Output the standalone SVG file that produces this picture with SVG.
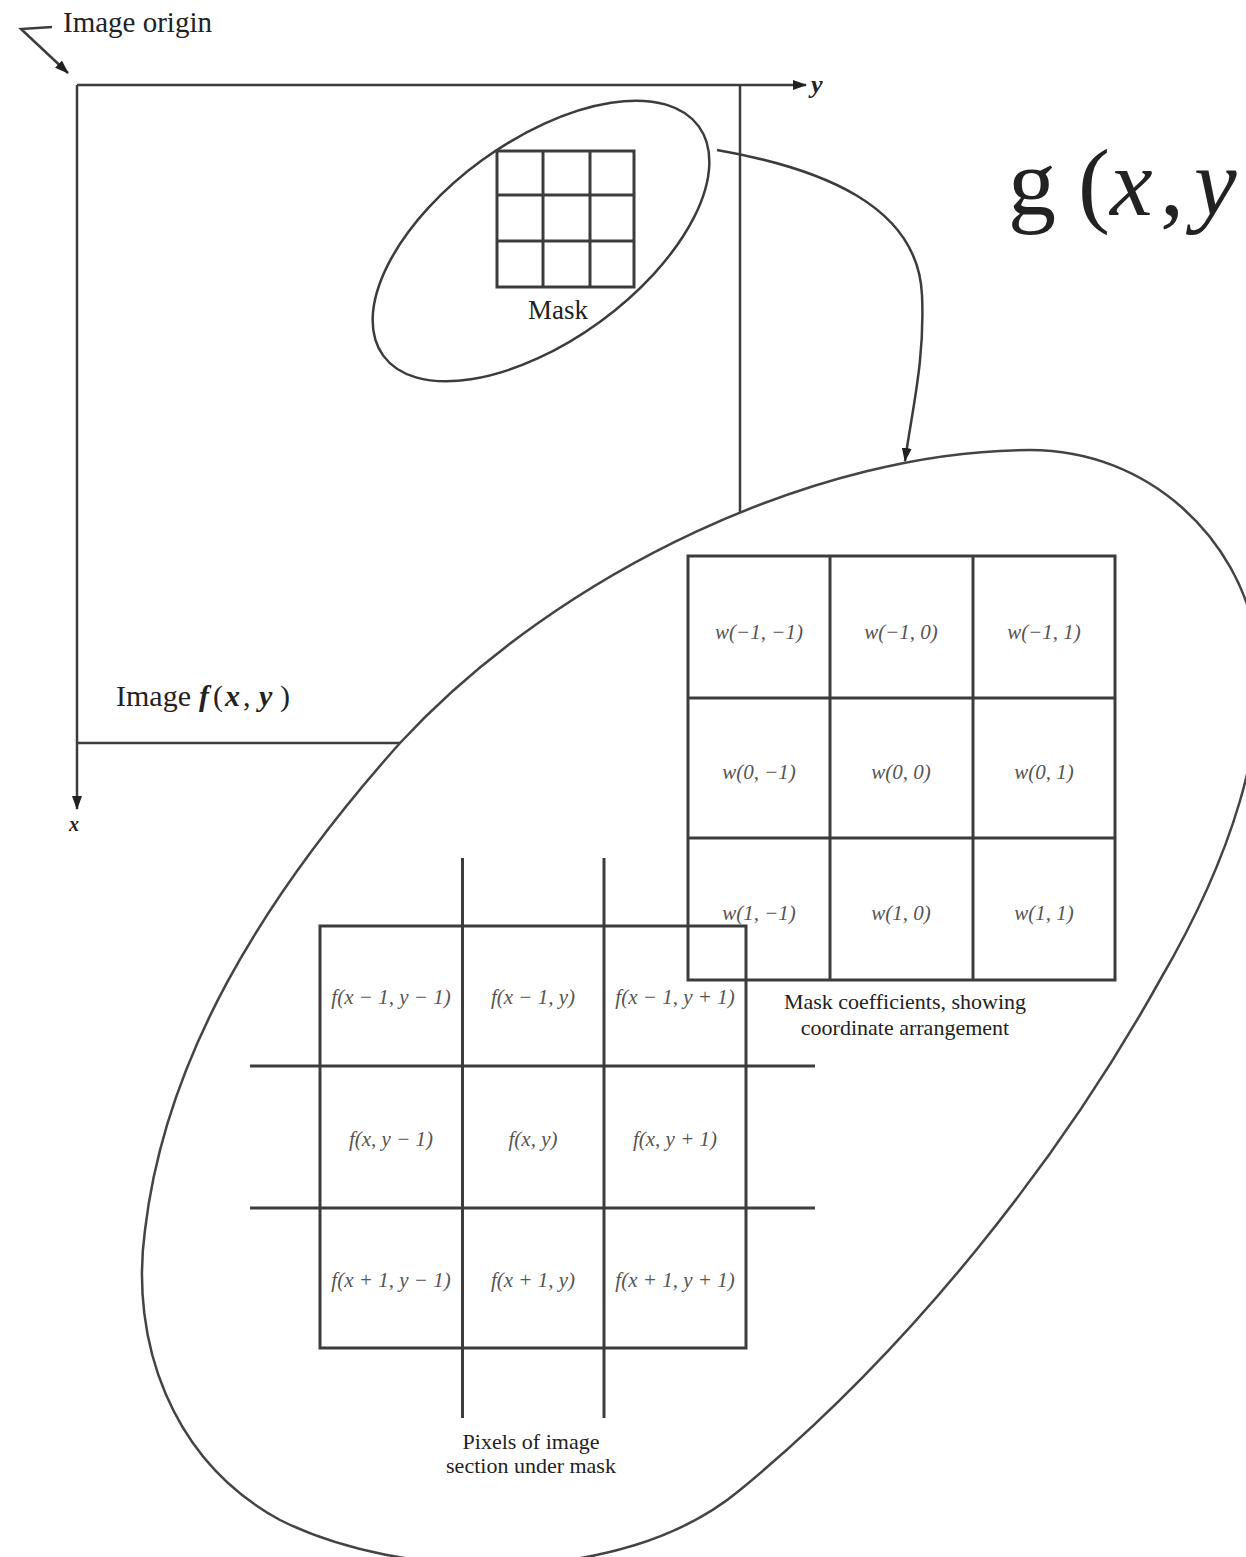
<svg xmlns="http://www.w3.org/2000/svg" width="1246" height="1557" viewBox="0 0 1246 1557">
<style>
.ln{fill:none;stroke:#3c3c3c;stroke-width:2.5}
.th{fill:none;stroke:#3c3c3c;stroke-width:3}
.lab{font-family:"Liberation Serif","Times New Roman",serif;fill:#222}
.cell{font-family:"Liberation Serif","Times New Roman",serif;font-size:21px;fill:#555;text-anchor:middle;font-style:italic}
.cap{font-family:"Liberation Serif","Times New Roman",serif;font-size:22px;fill:#222;text-anchor:middle}
.bi{font-style:italic;font-weight:bold}
</style>
<defs>
<marker id="arr" viewBox="0 0 14 10" refX="13" refY="5" markerWidth="14" markerHeight="10" markerUnits="userSpaceOnUse" orient="auto">
<path d="M0,0 L14,5 L0,10 Z" fill="#222"/>
</marker>
</defs>
<rect width="1246" height="1557" fill="#fff"/>

<g id="image-frame">
<line class="ln" x1="77" y1="85" x2="806" y2="85" marker-end="url(#arr)"/>
<line class="ln" x1="77" y1="85" x2="77" y2="809" marker-end="url(#arr)"/>
<line class="ln" x1="740" y1="85" x2="740" y2="540"/>
<line class="ln" x1="77" y1="743" x2="430" y2="743"/>
<text class="lab bi" x="811" y="93" font-size="26">y</text>
<text class="lab bi" x="69" y="831" font-size="20">x</text>
<text class="lab" y="706" font-size="30"><tspan x="116">Image</tspan><tspan class="bi" x="199">f</tspan><tspan x="213">(</tspan><tspan class="bi" x="225">x</tspan><tspan x="243">,</tspan><tspan class="bi" x="259">y</tspan><tspan x="280">)</tspan></text>
</g>

<g id="image-origin-label">
<text class="lab" x="63" y="32" font-size="29">Image origin</text>
</g>

<g id="mask-window">
<ellipse class="ln" cx="541" cy="241" rx="195" ry="100" transform="rotate(-36 541 241)"/>
<rect class="th" x="497" y="151" width="137" height="136"/>
<line class="th" x1="543" y1="151" x2="543" y2="287"/>
<line class="th" x1="590" y1="151" x2="590" y2="287"/>
<line class="th" x1="497" y1="195" x2="634" y2="195"/>
<line class="th" x1="497" y1="241" x2="634" y2="241"/>
<text class="lab" x="558" y="319" font-size="27" text-anchor="middle">Mask</text>
</g>

<g id="g-expression">
<text class="lab" y="215" font-size="96" fill="#111"><tspan x="1008">g</tspan><tspan x="1078">(</tspan><tspan x="1110" font-style="italic">x</tspan><tspan x="1160">,</tspan><tspan x="1194" font-style="italic">y</tspan></text>
</g>

<g id="zoom-ellipse">
<path d="M1030,450 C1150,450 1240,540 1256,640 C1270,740 1230,860 1160,980 C1060,1160 910,1350 740,1490 C620,1590 400,1580 280,1520 C170,1460 130,1340 145,1230 C165,1060 260,900 400,743 C560,570 820,450 1030,450 Z" fill="#fff" stroke="#444" stroke-width="2.5"/>
</g>

<g id="pixel-grid">
<rect class="th" x="320" y="926" width="426" height="422" fill="#fff"/>
<line class="th" x1="462.5" y1="858" x2="462.5" y2="1418"/>
<line class="th" x1="604" y1="858" x2="604" y2="1418"/>
<line class="th" x1="250" y1="1066" x2="815" y2="1066"/>
<line class="th" x1="250" y1="1208" x2="815" y2="1208"/>
<text class="cell" x="391" y="1004">f(x − 1, y − 1)</text>
<text class="cell" x="533" y="1004">f(x − 1, y)</text>
<text class="cell" x="675" y="1004">f(x − 1, y + 1)</text>
<text class="cell" x="391" y="1146">f(x, y − 1)</text>
<text class="cell" x="533" y="1146">f(x, y)</text>
<text class="cell" x="675" y="1146">f(x, y + 1)</text>
<text class="cell" x="391" y="1287">f(x + 1, y − 1)</text>
<text class="cell" x="533" y="1287">f(x + 1, y)</text>
<text class="cell" x="675" y="1287">f(x + 1, y + 1)</text>
<text class="cap" x="531" y="1449">Pixels of image</text>
<text class="cap" x="531" y="1473">section under mask</text>
</g>

<g id="mask-coefficients">
<rect class="th" x="688" y="556" width="427" height="424" fill="#fff"/>
<line class="th" x1="830" y1="556" x2="830" y2="980"/>
<line class="th" x1="973" y1="556" x2="973" y2="980"/>
<line class="th" x1="688" y1="698" x2="1115" y2="698"/>
<line class="th" x1="688" y1="838" x2="1115" y2="838"/>
<text class="cell" x="759" y="639">w(−1, −1)</text>
<text class="cell" x="901" y="639">w(−1, 0)</text>
<text class="cell" x="1044" y="639">w(−1, 1)</text>
<text class="cell" x="759" y="779">w(0, −1)</text>
<text class="cell" x="901" y="779">w(0, 0)</text>
<text class="cell" x="1044" y="779">w(0, 1)</text>
<text class="cell" x="759" y="920">w(1, −1)</text>
<text class="cell" x="901" y="920">w(1, 0)</text>
<text class="cell" x="1044" y="920">w(1, 1)</text>
<text class="cap" x="905" y="1009">Mask coefficients, showing</text>
<text class="cap" x="905" y="1035">coordinate arrangement</text>
</g>

<g id="connectors">
<polyline class="ln" points="52,27 21,29 68,73" marker-end="url(#arr)"/>
<path class="ln" d="M717,150 C820,168 918,205 922,295 C925,360 912,410 905,461" marker-end="url(#arr)"/>
</g>
</svg>
